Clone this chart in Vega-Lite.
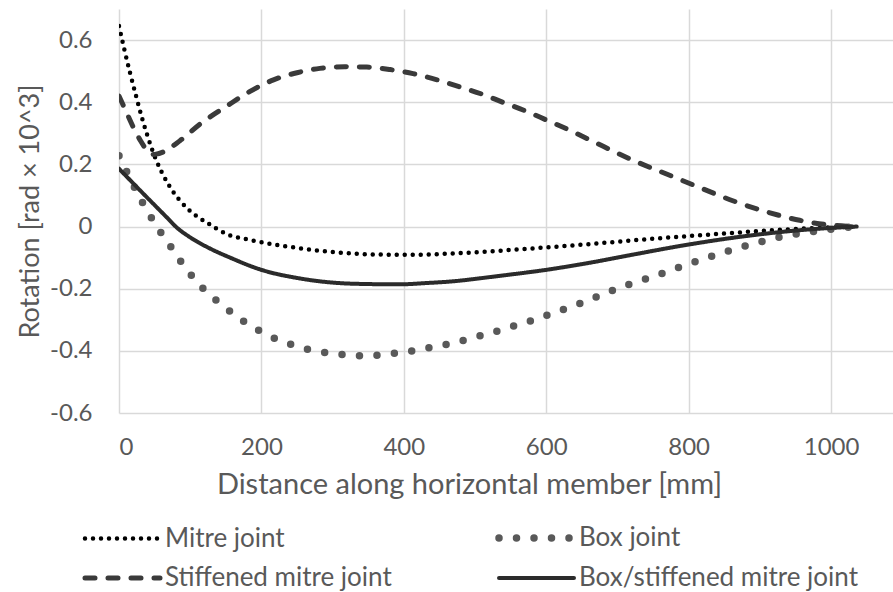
{
  "$schema": "https://vega.github.io/schema/vega-lite/v6.json",
  "width": 774,
  "height": 404,
  "autosize": {"type": "none"},
  "padding": {"left": 119, "top": 9, "right": 0, "bottom": 179},
  "background": "white",
  "config": {
    "view": {"stroke": null},
    "font": "Lato",
    "axis": {
      "grid": true,
      "gridColor": "#d9d9d9",
      "gridWidth": 1.5,
      "domain": false,
      "ticks": false,
      "labelColor": "#595959",
      "titleColor": "#595959",
      "labelFont": "Lato",
      "titleFont": "Lato",
      "labelFontSize": 24,
      "titleFontSize": 29,
      "titleFontWeight": "normal"
    },
    "legend": {
      "labelColor": "#595959",
      "labelFont": "Lato",
      "labelFontSize": 26,
      "labelLimit": 500
    }
  },
  "data": {
    "values": [
      {"s": "Mitre joint", "x": 0, "y": 0.645},
      {"s": "Mitre joint", "x": 8, "y": 0.565},
      {"s": "Mitre joint", "x": 16, "y": 0.49},
      {"s": "Mitre joint", "x": 24, "y": 0.42},
      {"s": "Mitre joint", "x": 32, "y": 0.352},
      {"s": "Mitre joint", "x": 42, "y": 0.278},
      {"s": "Mitre joint", "x": 52, "y": 0.215},
      {"s": "Mitre joint", "x": 60, "y": 0.175},
      {"s": "Mitre joint", "x": 67, "y": 0.145},
      {"s": "Mitre joint", "x": 73, "y": 0.122},
      {"s": "Mitre joint", "x": 85, "y": 0.085},
      {"s": "Mitre joint", "x": 97, "y": 0.056},
      {"s": "Mitre joint", "x": 110, "y": 0.032},
      {"s": "Mitre joint", "x": 124, "y": 0.012},
      {"s": "Mitre joint", "x": 137, "y": -0.007},
      {"s": "Mitre joint", "x": 151, "y": -0.024},
      {"s": "Mitre joint", "x": 184, "y": -0.043},
      {"s": "Mitre joint", "x": 230, "y": -0.062},
      {"s": "Mitre joint", "x": 301, "y": -0.082},
      {"s": "Mitre joint", "x": 362, "y": -0.09},
      {"s": "Mitre joint", "x": 413, "y": -0.091},
      {"s": "Mitre joint", "x": 465, "y": -0.087},
      {"s": "Mitre joint", "x": 559, "y": -0.074},
      {"s": "Mitre joint", "x": 652, "y": -0.058},
      {"s": "Mitre joint", "x": 746, "y": -0.04},
      {"s": "Mitre joint", "x": 840, "y": -0.024},
      {"s": "Mitre joint", "x": 933, "y": -0.01},
      {"s": "Mitre joint", "x": 1035, "y": 0},

      {"s": "Box joint", "x": 0, "y": 0.228},
      {"s": "Box joint", "x": 11, "y": 0.176},
      {"s": "Box joint", "x": 22, "y": 0.125},
      {"s": "Box joint", "x": 33, "y": 0.077},
      {"s": "Box joint", "x": 45, "y": 0.03},
      {"s": "Box joint", "x": 59, "y": -0.02},
      {"s": "Box joint", "x": 73, "y": -0.066},
      {"s": "Box joint", "x": 87, "y": -0.113},
      {"s": "Box joint", "x": 101, "y": -0.155},
      {"s": "Box joint", "x": 117, "y": -0.197},
      {"s": "Box joint", "x": 136, "y": -0.236},
      {"s": "Box joint", "x": 155, "y": -0.271},
      {"s": "Box joint", "x": 175, "y": -0.305},
      {"s": "Box joint", "x": 196, "y": -0.334},
      {"s": "Box joint", "x": 218, "y": -0.359},
      {"s": "Box joint", "x": 241, "y": -0.379},
      {"s": "Box joint", "x": 265, "y": -0.395},
      {"s": "Box joint", "x": 289, "y": -0.405},
      {"s": "Box joint", "x": 313, "y": -0.412},
      {"s": "Box joint", "x": 338, "y": -0.416},
      {"s": "Box joint", "x": 362, "y": -0.414},
      {"s": "Box joint", "x": 387, "y": -0.408},
      {"s": "Box joint", "x": 412, "y": -0.4},
      {"s": "Box joint", "x": 436, "y": -0.39},
      {"s": "Box joint", "x": 460, "y": -0.379},
      {"s": "Box joint", "x": 484, "y": -0.366},
      {"s": "Box joint", "x": 508, "y": -0.351},
      {"s": "Box joint", "x": 533, "y": -0.335},
      {"s": "Box joint", "x": 556, "y": -0.319},
      {"s": "Box joint", "x": 580, "y": -0.302},
      {"s": "Box joint", "x": 603, "y": -0.284},
      {"s": "Box joint", "x": 626, "y": -0.265},
      {"s": "Box joint", "x": 650, "y": -0.245},
      {"s": "Box joint", "x": 672, "y": -0.225},
      {"s": "Box joint", "x": 695, "y": -0.204},
      {"s": "Box joint", "x": 718, "y": -0.185},
      {"s": "Box joint", "x": 742, "y": -0.167},
      {"s": "Box joint", "x": 765, "y": -0.149},
      {"s": "Box joint", "x": 788, "y": -0.13},
      {"s": "Box joint", "x": 811, "y": -0.112},
      {"s": "Box joint", "x": 835, "y": -0.094},
      {"s": "Box joint", "x": 858, "y": -0.077},
      {"s": "Box joint", "x": 882, "y": -0.061},
      {"s": "Box joint", "x": 905, "y": -0.047},
      {"s": "Box joint", "x": 928, "y": -0.034},
      {"s": "Box joint", "x": 952, "y": -0.024},
      {"s": "Box joint", "x": 978, "y": -0.015},
      {"s": "Box joint", "x": 1005, "y": -0.007},
      {"s": "Box joint", "x": 1035, "y": 0},

      {"s": "Stiffened mitre joint", "x": 0, "y": 0.42},
      {"s": "Stiffened mitre joint", "x": 10, "y": 0.37},
      {"s": "Stiffened mitre joint", "x": 20, "y": 0.32},
      {"s": "Stiffened mitre joint", "x": 30, "y": 0.277},
      {"s": "Stiffened mitre joint", "x": 40, "y": 0.243},
      {"s": "Stiffened mitre joint", "x": 46, "y": 0.232},
      {"s": "Stiffened mitre joint", "x": 52, "y": 0.233},
      {"s": "Stiffened mitre joint", "x": 62, "y": 0.24},
      {"s": "Stiffened mitre joint", "x": 86, "y": 0.277},
      {"s": "Stiffened mitre joint", "x": 114, "y": 0.33},
      {"s": "Stiffened mitre joint", "x": 151, "y": 0.387},
      {"s": "Stiffened mitre joint", "x": 184, "y": 0.435},
      {"s": "Stiffened mitre joint", "x": 217, "y": 0.472},
      {"s": "Stiffened mitre joint", "x": 250, "y": 0.495},
      {"s": "Stiffened mitre joint", "x": 282, "y": 0.509},
      {"s": "Stiffened mitre joint", "x": 317, "y": 0.514},
      {"s": "Stiffened mitre joint", "x": 348, "y": 0.513},
      {"s": "Stiffened mitre joint", "x": 381, "y": 0.505},
      {"s": "Stiffened mitre joint", "x": 413, "y": 0.492},
      {"s": "Stiffened mitre joint", "x": 447, "y": 0.472},
      {"s": "Stiffened mitre joint", "x": 479, "y": 0.449},
      {"s": "Stiffened mitre joint", "x": 511, "y": 0.425},
      {"s": "Stiffened mitre joint", "x": 539, "y": 0.4},
      {"s": "Stiffened mitre joint", "x": 573, "y": 0.37},
      {"s": "Stiffened mitre joint", "x": 601, "y": 0.342},
      {"s": "Stiffened mitre joint", "x": 629, "y": 0.314},
      {"s": "Stiffened mitre joint", "x": 680, "y": 0.258},
      {"s": "Stiffened mitre joint", "x": 722, "y": 0.213},
      {"s": "Stiffened mitre joint", "x": 769, "y": 0.169},
      {"s": "Stiffened mitre joint", "x": 816, "y": 0.125},
      {"s": "Stiffened mitre joint", "x": 862, "y": 0.083},
      {"s": "Stiffened mitre joint", "x": 910, "y": 0.047},
      {"s": "Stiffened mitre joint", "x": 956, "y": 0.02},
      {"s": "Stiffened mitre joint", "x": 990, "y": 0.007},
      {"s": "Stiffened mitre joint", "x": 1036, "y": 0},

      {"s": "Box/stiffened mitre joint", "x": 0, "y": 0.186},
      {"s": "Box/stiffened mitre joint", "x": 17, "y": 0.146},
      {"s": "Box/stiffened mitre joint", "x": 34, "y": 0.106},
      {"s": "Box/stiffened mitre joint", "x": 50, "y": 0.069},
      {"s": "Box/stiffened mitre joint", "x": 66, "y": 0.032},
      {"s": "Box/stiffened mitre joint", "x": 81, "y": -0.003},
      {"s": "Box/stiffened mitre joint", "x": 100, "y": -0.035},
      {"s": "Box/stiffened mitre joint", "x": 128, "y": -0.071},
      {"s": "Box/stiffened mitre joint", "x": 156, "y": -0.1},
      {"s": "Box/stiffened mitre joint", "x": 198, "y": -0.138},
      {"s": "Box/stiffened mitre joint", "x": 254, "y": -0.167},
      {"s": "Box/stiffened mitre joint", "x": 329, "y": -0.184},
      {"s": "Box/stiffened mitre joint", "x": 395, "y": -0.186},
      {"s": "Box/stiffened mitre joint", "x": 430, "y": -0.182},
      {"s": "Box/stiffened mitre joint", "x": 465, "y": -0.177},
      {"s": "Box/stiffened mitre joint", "x": 530, "y": -0.16},
      {"s": "Box/stiffened mitre joint", "x": 601, "y": -0.139},
      {"s": "Box/stiffened mitre joint", "x": 660, "y": -0.117},
      {"s": "Box/stiffened mitre joint", "x": 718, "y": -0.092},
      {"s": "Box/stiffened mitre joint", "x": 792, "y": -0.061},
      {"s": "Box/stiffened mitre joint", "x": 886, "y": -0.029},
      {"s": "Box/stiffened mitre joint", "x": 960, "y": -0.011},
      {"s": "Box/stiffened mitre joint", "x": 1036, "y": 0}
    ]
  },
  "mark": {"type": "line", "interpolate": "monotone", "strokeCap": "round", "strokeJoin": "round", "clip": true},
  "encoding": {
    "x": {
      "field": "x",
      "type": "quantitative",
      "scale": {"domain": [0, 1087], "nice": false, "zero": false},
      "axis": {
        "values": [0, 200, 400, 600, 800, 1000],
        "format": "d",
        "labelPadding": 22,
        "title": "Distance along horizontal member [mm]",
        "titleX": 350,
        "titleY": 71,
        "titleBaseline": "middle",
        "titleAnchor": null
      }
    },
    "y": {
      "field": "y",
      "type": "quantitative",
      "scale": {"domain": [-0.6, 0.7], "nice": false, "zero": false},
      "axis": {
        "values": [-0.6, -0.4, -0.2, 0, 0.2, 0.4, 0.6],
        "labelExpr": "datum.value == 0 ? '0' : (datum.value < 0 ? '-' : '') + format(abs(datum.value), '.1f')",
        "labelPadding": 27,
        "title": "Rotation [rad × 10^3]",
        "titleFontSize": 27,
        "titlePadding": 5
      }
    },
    "color": {
      "field": "s",
      "type": "nominal",
      "sort": null,
      "scale": {
        "domain": ["Mitre joint", "Box joint", "Stiffened mitre joint", "Box/stiffened mitre joint"],
        "range": ["#000000", "#595959", "#3a3a3a", "#2b2b2b"]
      },
      "legend": {
        "title": null,
        "orient": "none",
        "legendX": -38,
        "legendY": 515,
        "direction": "horizontal",
        "columns": 2,
        "columnPadding": 92,
        "rowPadding": 12,
        "symbolType": "M-1,0H6.5",
        "symbolSize": 400,
        "labelOffset": 56,
        "encode": {"symbols": {"update": {"strokeCap": {"value": "round"}}}}
      }
    },
    "strokeDash": {
      "field": "s",
      "type": "nominal",
      "sort": null,
      "scale": {
        "domain": ["Mitre joint", "Box joint", "Stiffened mitre joint", "Box/stiffened mitre joint"],
        "range": [[0, 8], [0, 17.5], [10, 13], [1, 0]]
      },
      "legend": {"title": null}
    },
    "strokeWidth": {
      "field": "s",
      "type": "nominal",
      "sort": null,
      "scale": {
        "type": "ordinal",
        "domain": ["Mitre joint", "Box joint", "Stiffened mitre joint", "Box/stiffened mitre joint"],
        "range": [4.5, 7.5, 5, 4]
      },
      "legend": {"title": null}
    }
  }
}
